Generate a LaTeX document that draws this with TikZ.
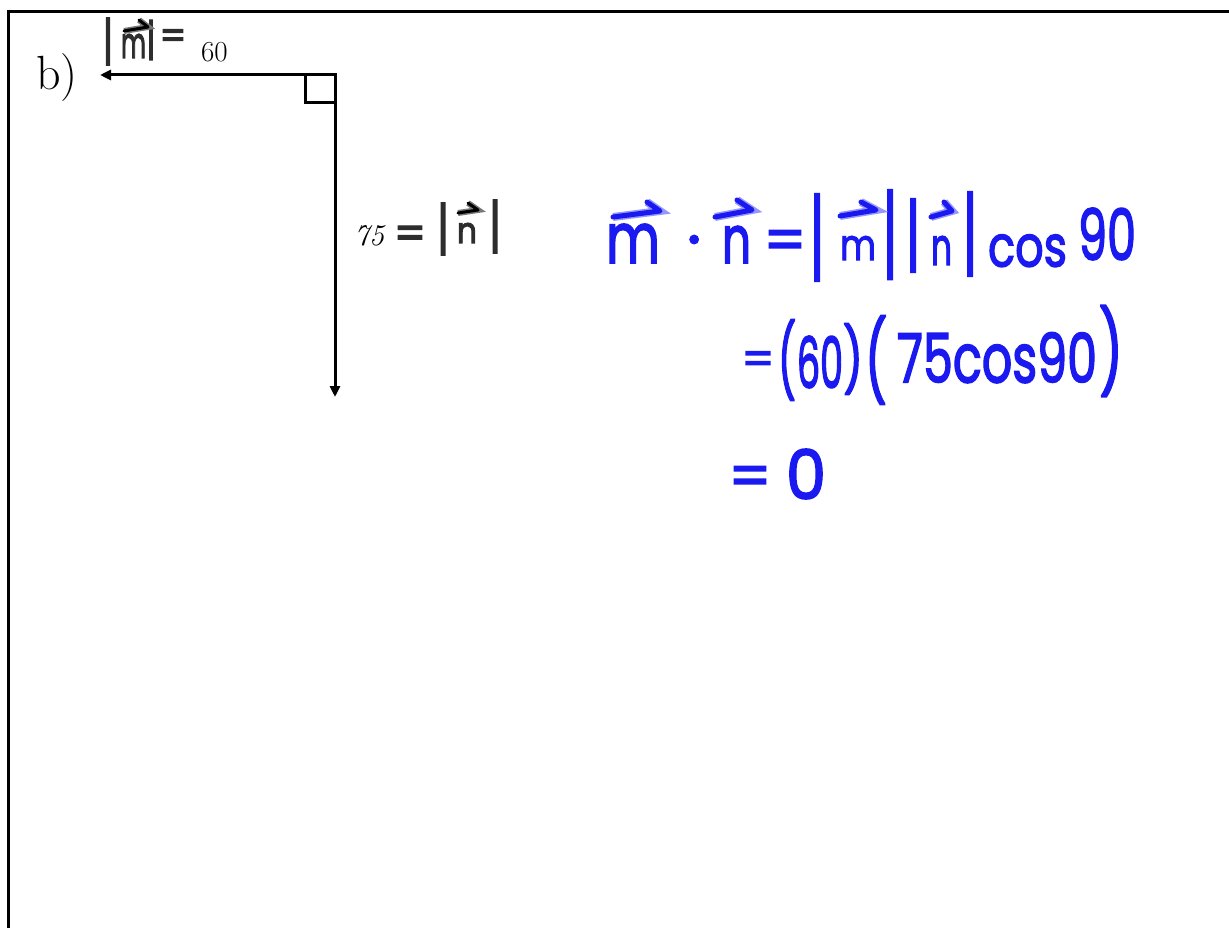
\documentclass[tikz,border=0pt]{standalone}
\usepackage{fontspec}
\usepackage{graphicx}
\usetikzlibrary{arrows.meta}
\newfontfamily\hwfont{Poppins}[FakeBold=2.5]
\newfontfamily\gwfont{Poppins}[FakeBold=3]
\definecolor{hwblue}{RGB}{25,25,240}
\definecolor{hwhalo}{RGB}{150,150,255}
\definecolor{gwcore}{RGB}{45,45,45}
\definecolor{gwhalo}{RGB}{120,120,120}
\newcommand\hwb[3]{\resizebox{#1pt}{#2pt}{\hwfont\fontsize{60pt}{60pt}\selectfont #3}}
\newcommand\hwbt[3]{\resizebox*{#1pt}{#2pt}{\hwfont\fontsize{60pt}{60pt}\selectfont #3}}
\newcommand\hwplain[2]{{\hwfont\fontsize{#1pt}{#1pt}\selectfont #2}}
\newcommand\hwg[3]{\resizebox{#1pt}{#2pt}{\gwfont\fontsize{40pt}{40pt}\selectfont #3}}
\newcommand\hwgt[3]{\resizebox*{#1pt}{#2pt}{\gwfont\fontsize{40pt}{40pt}\selectfont #3}}
\newcommand\hwgplain[2]{{\gwfont\fontsize{#1pt}{#1pt}\selectfont #2}}
\tikzset{
  hwn/.style={inner sep=0pt, outer sep=0pt, text=hwblue, anchor=south west},
  hwc/.style={inner sep=0pt, outer sep=0pt, text=hwblue, anchor=center},
  hwbase/.style={inner sep=0pt, outer sep=0pt, text=hwblue, anchor=base},
  gwn/.style={inner sep=0pt, outer sep=0pt, text=gwcore, anchor=south west},
  gwc/.style={inner sep=0pt, outer sep=0pt, text=gwcore, anchor=center},
  gwbase/.style={inner sep=0pt, outer sep=0pt, text=gwcore, anchor=base},
  bvec/.style={draw=hwblue, line width=5pt, line cap=round, line join=round, preaction={draw=hwhalo, line width=8pt}},
  gvec/.style={draw=black, line width=3pt, line cap=round, line join=round, preaction={draw=gwhalo, line width=6pt}},
  serif/.style={inner sep=0pt, outer sep=0pt, anchor=base west},
  vecline/.style={line width=3pt, {Triangle[length=11pt,width=10pt]}-{Triangle[length=11pt,width=10pt]}},
  thickline/.style={line width=3pt}
}
\begin{document}
\begin{tikzpicture}[x=1pt,y=-1pt]
\useasboundingbox (0,0) rectangle (1229,928);
% frame
\draw[thickline] (1229,11.3) -- (8.7,11.3) -- (8.7,928);
% vectors
\coordinate (c) at (335,75);
\coordinate (mt) at (100,75);
\coordinate (nt) at (335,397);
\coordinate (ra1) at (305,75);
\coordinate (ra2) at (305,103);
\coordinate (ra3) at (335,103);
\draw[vecline] (mt) -- (c) -- (nt);
\draw[thickline] (ra1) -- (ra2) -- (ra3);
% printed labels
\node[serif, font=\fontsize{48pt}{48pt}\selectfont] (lb) at (36,90) {b)};
\node[serif, font=\fontsize{29pt}{29pt}\selectfont] (l60) at (201,62) {60};
\node[serif, font=\fontsize{30pt}{30pt}\selectfont] (l75) at (354,245) {\textit{75}};
% grey handwriting
\node[gwc] (gb1) at (108,41.5) {\hwgt{10}{47}{|}};
\node[gwn] (gm) at (121,58) {\hwg{25}{24}{m}};
\node[gwc] (gb2) at (151,40) {\hwgt{9}{40}{|}};
\node[gwbase] (geq1) at (173,49) {\hwgplain{38}{=}};
\draw[gvec] (139,20) -- (148,27) -- (124,31);
\node[gwbase] (geq2) at (410,249) {\hwgplain{45}{=}};
\node[gwc] (gb3) at (443,229) {\hwgt{12}{52}{|}};
\node[gwn] (gn) at (457,243) {\hwg{20}{20}{n}};
\draw[gvec] (468,203) -- (478,210) -- (458,213);
\node[gwc] (gb4) at (495,226.5) {\hwgt{12}{53}{|}};
% blue line 1
\node[hwn] (m1) at (606,263) {\hwb{54}{39}{m}};
\node[hwbase] (dot) at (694,262) {\hwplain{66}{·}};
\node[hwn] (n1) at (722,263) {\hwb{29}{37}{n}};
\node[hwbase] (eq1) at (785,261) {\hwplain{60}{=}};
\node[hwc] (b1) at (817,237.5) {\hwbt{15}{87}{|}};
\node[hwn] (m2) at (840,260) {\hwb{36}{24}{m}};
\node[hwc] (b2) at (890,234.5) {\hwbt{15}{89}{|}};
\node[hwc] (b3) at (913,235.5) {\hwbt{15}{73}{|}};
\node[hwn] (n2) at (931,265) {\hwb{21}{29}{n}};
\node[hwc] (b4) at (970,234) {\hwbt{15}{84}{|}};
\node[hwn] (cos1) at (988,267) {\hwb{79}{32}{cos}};
\node[hwn] (n90) at (1078,260) {\hwb{58}{52}{90}};
\draw[bvec] (647,202) -- (660,211) -- (613,217);
\draw[bvec] (737,200) -- (752,210) -- (715,217);
\draw[bvec] (861,202) -- (876,210) -- (840,216);
\draw[bvec] (944,202) -- (952,211) -- (931,217);
% blue line 2
\node[hwbase] (eq2) at (758,375) {\hwplain{46}{=}};
\node[hwc] (p1) at (787,360) {\hwbt{18}{81}{(}};
\node[hwn] (s60) at (797,388) {\hwb{46}{52}{60}};
\node[hwc] (p2) at (853,359) {\hwbt{20}{71}{)}};
\node[hwc] (p3) at (876,360) {\hwbt{22}{89}{(}};
\node[hwn] (s75) at (897,383) {\hwb{200}{50}{75cos90}};
\node[hwc] (p4) at (1111,351) {\hwbt{24}{91}{)}};
% blue line 3
\node[hwbase] (eq3) at (750,497) {\hwplain{60}{=}};
\node[hwn] (zero) at (786,499) {\hwb{40}{50}{0}};
\end{tikzpicture}
\end{document}
